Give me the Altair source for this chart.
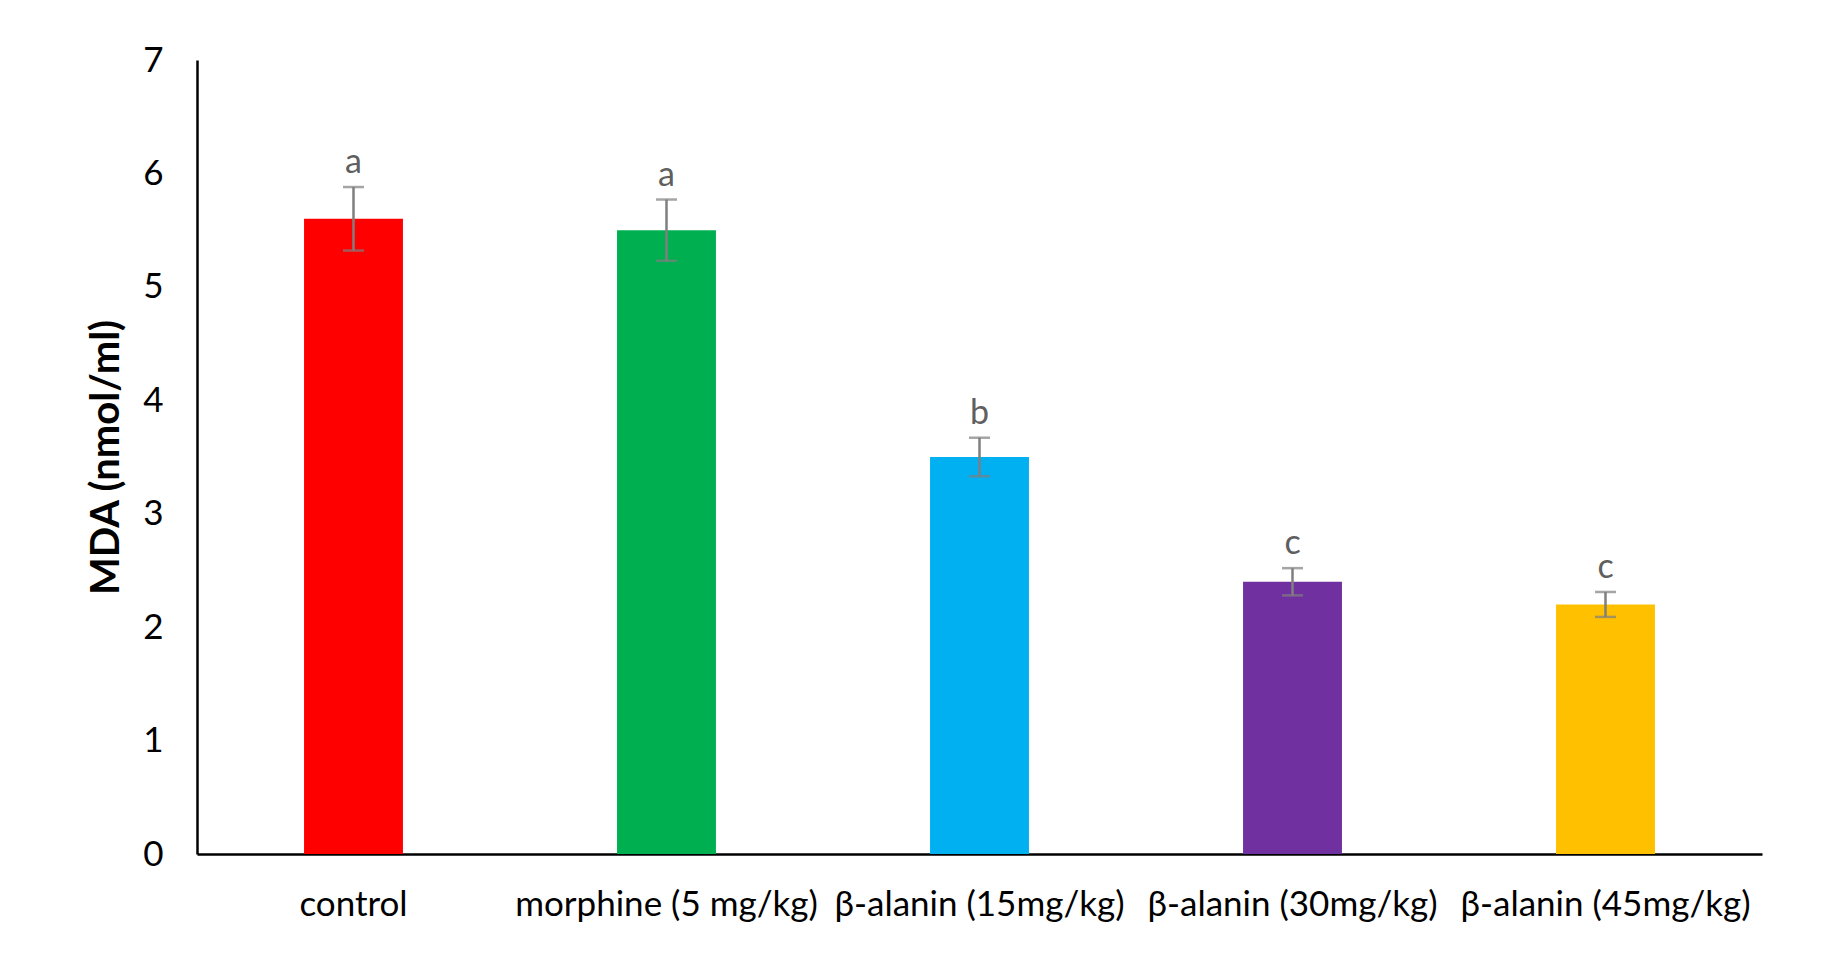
import altair as alt
import pandas as pd

categories = ["control", "morphine (5 mg/kg)", "β-alanin (15mg/kg)", "β-alanin (30mg/kg)", "β-alanin (45mg/kg)"]
means = [5.60, 5.50, 3.50, 2.40, 2.20]
errors = [0.28, 0.27, 0.17, 0.12, 0.11]
letters = ["a", "a", "b", "c", "c"]
colors = ["#FF0000", "#00B050", "#00B0F0", "#7030A0", "#FFC000"]

df = pd.DataFrame({"cat": categories, "mean": means, "err": errors, "letter": letters})
df["lo"] = df["mean"] - df["err"]
df["hi"] = df["mean"] + df["err"]

FONT = "Lato"

x = alt.X("cat:N", sort=categories, title=None,
          scale=alt.Scale(paddingInner=0.684, paddingOuter=0.342),
          axis=alt.Axis(labelAngle=0, labelFont=FONT, labelFontSize=35, labelColor="#000000",
                        labelPadding=33, ticks=False, domainColor="#000000", domainWidth=2.5,
                        labelLimit=400))
y = alt.Y("mean:Q", title="MDA (nmol/ml)",
          scale=alt.Scale(domain=[0, 7], nice=False),
          axis=alt.Axis(values=[0, 1, 2, 3, 4, 5, 6, 7], format="d", grid=False, ticks=False,
                        labelFont=FONT, labelFontSize=35, labelColor="#000000", labelPadding=34,
                        domainColor="#000000", domainWidth=2.5,
                        titleFont=FONT, titleFontSize=40, titleFontWeight="bold", titleColor="#000000",
                        titlePadding=16))

bars = alt.Chart(df).mark_bar().encode(
    x=x, y=y,
    color=alt.Color("cat:N", sort=categories, scale=alt.Scale(domain=categories, range=colors), legend=None),
)

rules = alt.Chart(df).mark_rule(color="#7F7F7F", strokeWidth=2.5).encode(
    x=alt.X("cat:N", sort=categories), y="lo:Q", y2="hi:Q")

caps_hi = alt.Chart(df).mark_tick(color="#7F7F7F", thickness=2.5, size=21).encode(
    x=alt.X("cat:N", sort=categories), y="hi:Q")
caps_lo = alt.Chart(df).mark_tick(color="#7F7F7F", thickness=2.5, size=21).encode(
    x=alt.X("cat:N", sort=categories), y="lo:Q")

labels = alt.Chart(df).mark_text(font=FONT, fontSize=34, color="#5F5F5F", baseline="middle", dy=-24).encode(
    x=alt.X("cat:N", sort=categories), y="hi:Q", text="letter:N")

chart = alt.layer(bars, rules, caps_hi, caps_lo, labels).properties(
    width=1565, height=794,
    background="#FFFFFF",
    autosize=alt.AutoSizeParams(type="none"),
    padding={"left": 189, "top": 52, "right": 50, "bottom": 100},
).configure_view(strokeWidth=0, stroke=None)

chart.save("out.html", embed_options={"renderer": "svg", "actions": False})
